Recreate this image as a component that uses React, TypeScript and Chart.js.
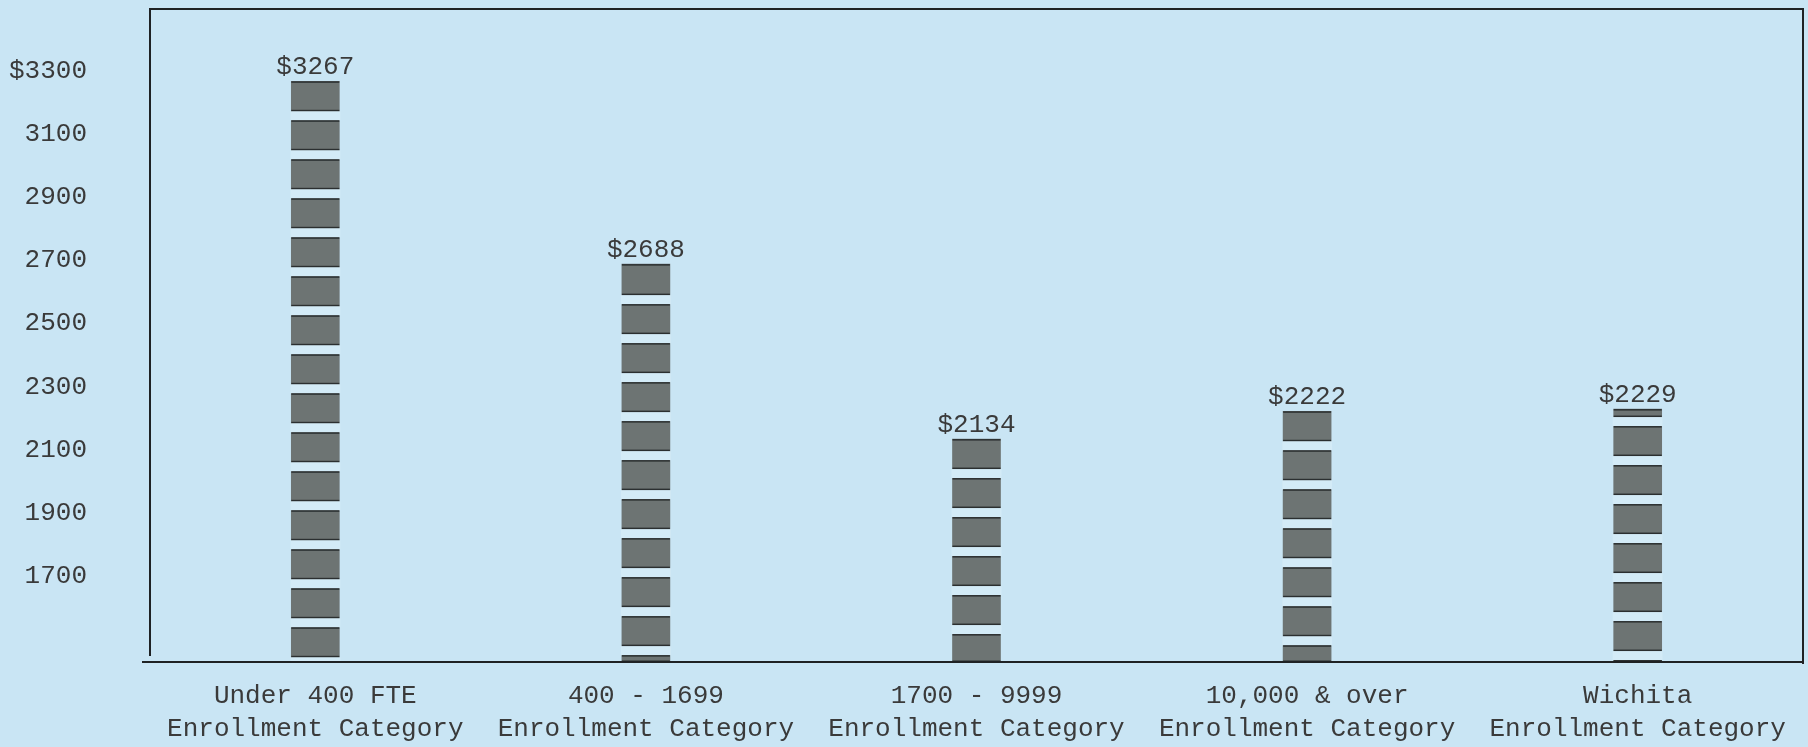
import React, { useEffect, useRef } from "react";
import { Chart, registerables } from "chart.js";

Chart.register(...registerables);

const categories: string[][] = [
  ["Under 400 FTE", "Enrollment Category"],
  ["400 - 1699", "Enrollment Category"],
  ["1700 - 9999", "Enrollment Category"],
  ["10,000 & over", "Enrollment Category"],
  ["Wichita", "Enrollment Category"],
];
const costValues: number[] = [3267, 2688, 2134, 2222, 2229];
const yTickValues: number[] = [1700, 1900, 2100, 2300, 2500, 2700, 2900, 3100, 3300];
const yTickLabels: string[] = ["1700", "1900", "2100", "2300", "2500", "2700", "2900", "3100", "$3300"];
const firstSegment: number[] = [30, 31, 30, 30, 8];

const BG = "#c9e5f4";
const GAP_COLOR = "#d3ebf7";
const BAR = "#6d7473";
const EDGE = "#2b2f30";
const INK = "#3a3a3a";
const FONT = "'Liberation Mono', 'DejaVu Sans Mono', monospace";

const segmentPlugin = {
  id: "segments",
  afterDatasetsDraw(chart: any) {
    const ctx = chart.ctx;
    const meta = chart.getDatasetMeta(0);
    const SEG = 30;
    const GAP = 9;
    const floor = chart.chartArea.bottom;
    ctx.save();
    meta.data.forEach((bar: any, i: number) => {
      const props = bar.getProps(["x", "y", "base", "width"], true);
      const { x, y, width } = props;
      const base = Math.min(props.base, floor);
      const left = x - width / 2;
      let top = y;
      let segLen = firstSegment[i] ?? SEG;
      while (top < base - 0.5) {
        const segBottom = Math.min(top + segLen, base);
        ctx.fillStyle = EDGE;
        ctx.fillRect(left, top, width, 1.5);
        ctx.fillRect(left, segBottom - 1.5, width, 1.5);
        const gapBottom = Math.min(segBottom + GAP, base);
        if (gapBottom > segBottom) {
          ctx.fillStyle = GAP_COLOR;
          ctx.fillRect(left - 1, segBottom, width + 2, gapBottom - segBottom);
        }
        top = gapBottom;
        segLen = SEG;
      }
    });
    ctx.restore();
  },
};

const labelPlugin = {
  id: "valueLabels",
  afterDatasetsDraw(chart: any) {
    const ctx = chart.ctx;
    const meta = chart.getDatasetMeta(0);
    ctx.save();
    ctx.font = `26px ${FONT}`;
    ctx.fillStyle = INK;
    ctx.textAlign = "center";
    ctx.textBaseline = "middle";
    meta.data.forEach((bar: any, i: number) => {
      const { x, y } = bar.getProps(["x", "y"], true);
      ctx.fillText("$" + costValues[i], x, y - 14);
    });
    ctx.restore();
  },
};

const framePlugin = {
  id: "frame",
  afterDraw(chart: any) {
    const ctx = chart.ctx;
    const { left, right, top, bottom } = chart.chartArea;
    ctx.save();
    ctx.strokeStyle = "#1f2224";
    ctx.lineWidth = 2;
    ctx.beginPath();
    ctx.moveTo(left, bottom - 6);
    ctx.lineTo(left, top);
    ctx.lineTo(right, top);
    ctx.lineTo(right, bottom + 2);
    ctx.stroke();
    ctx.beginPath();
    ctx.moveTo(left - 8, bottom);
    ctx.lineTo(right, bottom);
    ctx.stroke();
    ctx.restore();
  },
};

export default function App() {
  const ref = useRef<HTMLCanvasElement | null>(null);

  useEffect(() => {
    document.body.style.margin = "0";
    document.body.style.background = BG;
    const canvas = ref.current;
    if (!canvas) return;
    const chart = new Chart(canvas, {
      type: "bar",
      data: {
        labels: categories,
        datasets: [
          {
            data: costValues,
            backgroundColor: BAR,
            borderWidth: 0,
            barThickness: 48,
          },
        ],
      },
      options: {
        responsive: false,
        animation: false,
        layout: { padding: { top: 9, right: 5, left: 0, bottom: 0 } },
        plugins: {
          legend: { display: false },
          tooltip: { enabled: false },
        },
        scales: {
          x: {
            type: "category",
            offset: true,
            grid: { display: false, drawTicks: false },
            border: { display: false },
            ticks: {
              color: INK,
              font: { family: FONT, size: 26, lineHeight: 1.27 },
              padding: 18,
              maxRotation: 0,
              autoSkip: false,
            },
            afterFit(scale: any) {
              scale.height = 85;
              scale.paddingLeft = 0;
              scale.paddingRight = 0;
            },
          },
          y: {
            type: "linear",
            min: 1428,
            max: 3496,
            grid: { display: false, drawTicks: false },
            border: { display: false },
            afterBuildTicks(scale: any) {
              scale.ticks = yTickValues.map((v) => ({ value: v }));
            },
            afterFit(scale: any) {
              scale.width = 150;
              scale.paddingTop = 0;
              scale.paddingBottom = 0;
            },
            ticks: {
              color: INK,
              font: { family: FONT, size: 26 },
              padding: 63,
              callback: (value: any) => {
                const idx = yTickValues.indexOf(Number(value));
                return idx >= 0 ? yTickLabels[idx] : "";
              },
            },
          },
        },
      },
      plugins: [segmentPlugin, labelPlugin, framePlugin],
    });
    return () => chart.destroy();
  }, []);

  return (
    <div
      style={{
        position: "fixed",
        left: 0,
        top: 0,
        width: 1808,
        height: 747,
        background: BG,
        overflow: "hidden",
      }}
    >
      <canvas ref={ref} width={1808} height={747} style={{ display: "block" }} />
    </div>
  );
}
